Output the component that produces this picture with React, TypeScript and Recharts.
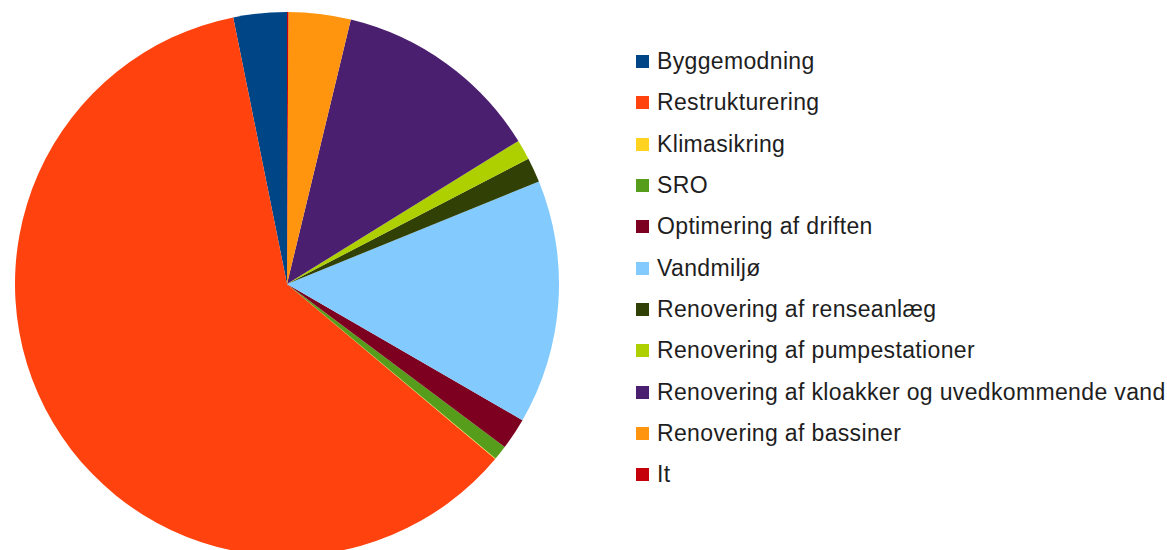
import { PieChart, Pie, Cell, Legend } from "recharts";

// categories in drawing order (counter-clockwise from 12 o'clock)
const categories: string[] = [
  "Byggemodning",
  "Restrukturering",
  "Klimasikring",
  "SRO",
  "Optimering af driften",
  "Vandmiljø",
  "Renovering af renseanlæg",
  "Renovering af pumpestationer",
  "Renovering af kloakker og uvedkommende vand",
  "Renovering af bassiner",
  "It",
];

// share of budget, in percent
const shares: number[] = [3.17, 60.72, 0.03, 0.86, 1.89, 14.5, 1.47, 1.19, 12.42, 3.69, 0.08];

const colors: string[] = [
  "#004586",
  "#ff420e",
  "#ffd320",
  "#579d1c",
  "#7e0021",
  "#83caff",
  "#314004",
  "#aecf00",
  "#4b1f6f",
  "#ff950e",
  "#c5000b",
];

const data = categories.map((name, i) => ({ name, value: shares[i] }));

const font = '"Liberation Sans", Arial, sans-serif';

function LegendList() {
  return (
    <div style={{ fontFamily: font }}>
      {categories.map((name, i) => (
        <div
          key={name}
          style={{ height: 41.3, display: "flex", alignItems: "center" }}
        >
          <span
            style={{
              width: 13,
              height: 13,
              flexShrink: 0,
              background: colors[i],
              display: "inline-block",
              marginRight: 8,
            }}
          />
          <span style={{ fontSize: 23, letterSpacing: 0.35, color: "#1e1e1e", whiteSpace: "nowrap" }}>
            {name}
          </span>
        </div>
      ))}
    </div>
  );
}

export default function App() {
  return (
    <div style={{ position: "absolute", left: 0, top: 0, background: "#fff" }}>
      <PieChart width={1167} height={550} margin={{ top: 0, right: 0, bottom: 0, left: 0 }}>
        <Pie
          data={data}
          dataKey="value"
          nameKey="name"
          cx={287}
          cy={284}
          outerRadius={272}
          startAngle={90}
          endAngle={450}
          stroke="none"
          isAnimationActive={false}
        >
          {data.map((d, i) => (
            <Cell key={d.name} fill={colors[i]} />
          ))}
        </Pie>
        <Legend
          layout="vertical"
          content={() => <LegendList />}
          wrapperStyle={{ position: "absolute", left: 636, top: 41, width: 531 }}
        />
      </PieChart>
    </div>
  );
}
